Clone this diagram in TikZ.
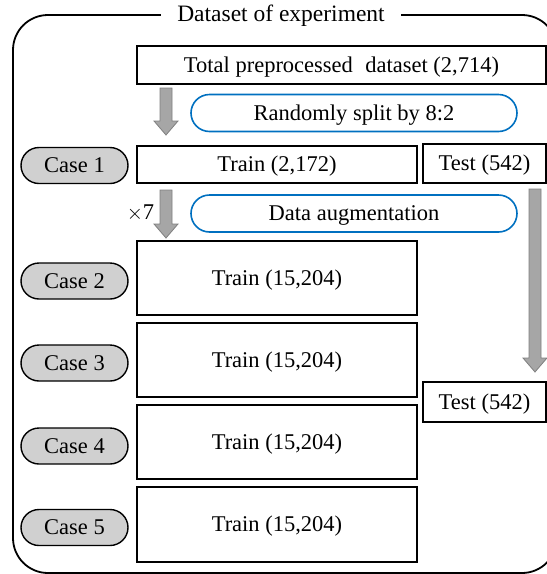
\documentclass[tikz,border=0pt]{standalone}
\usepackage{fontspec}
\setmainfont{Liberation Serif}
\usetikzlibrary{shapes.misc,calc}
\definecolor{pillblue}{RGB}{0,112,192}
\definecolor{casegray}{RGB}{208,208,208}
\definecolor{arrowfill}{RGB}{166,166,166}
\definecolor{arrowline}{RGB}{127,127,127}

% gray block arrow pointing down from #1 to #2
\newcommand\blockarrow[2]{%
  \draw[blockarrow] let \p1=(#1), \p2=(#2) in
    (\x1-6pt,\y1) -- (\x1+6pt,\y1) -- (\x1+6pt,\y2+14pt) -- (\x1+12pt,\y2+14pt)
    -- (\x1,\y2) -- (\x1-12pt,\y2+14pt) -- (\x1-6pt,\y2+14pt) -- cycle;}

\begin{document}
\begin{tikzpicture}[x=1pt,y=-1pt,
  font=\fontsize{22.5}{27}\selectfont,
  txt/.style={text height=14pt, text depth=0pt},
  databox/.style={txt, draw=black, line width=1.8pt, fill=white, inner sep=0pt, outer sep=0pt},
  casepill/.style={txt, rounded rectangle, draw=black, line width=1.4pt, fill=casegray,
    minimum width=107pt, minimum height=36pt, inner sep=0pt},
  steppill/.style={txt, rounded rectangle, draw=pillblue, line width=1.6pt,
    minimum width=326pt, minimum height=37pt, inner sep=0pt},
  blockarrow/.style={fill=arrowfill, draw=arrowline, line width=0.8pt, line join=miter}]

\useasboundingbox (0,0) rectangle (547,574);

% outer frame with its title
\draw[line width=1.8pt, rounded corners=35pt] (13,15) rectangle (557,573);
\node[txt, fill=white, inner xsep=16pt, inner ysep=3pt, font=\fontsize{23.5}{28}\selectfont]
  (title) at (281,14) {Dataset of experiment};

% full dataset and the 8:2 split
\node[databox, minimum width=409pt, minimum height=38pt] (total) at (341.5,65)
  {Total preprocessed\hspace{0.3em} dataset (2,714)};
\node[steppill] (split) at (354,113) {Randomly split by 8:2};

\node[casepill] (case1) at (74.5,165.5) {Case 1};
\node[databox, minimum width=280pt, minimum height=37pt] (train1) at (277,164.5) {Train (2,172)};
\node[databox, minimum width=123pt, minimum height=39pt] (test1) at (484.5,163.5) {Test (542)};

% augmentation step
\node[steppill] (augment) at (354,213.5) {Data augmentation};
\node[txt] (times) at (140.5,212) {$\times$7};

% augmented training sets
\node[databox, minimum width=280pt, minimum height=74pt] (train2) at (277,278) {Train (15,204)};
\node[databox, minimum width=280pt, minimum height=74pt] (train3) at (277,360) {Train (15,204)};
\node[databox, minimum width=280pt, minimum height=74pt] (train4) at (277,442) {Train (15,204)};
\node[databox, minimum width=280pt, minimum height=75pt] (train5) at (277,524.5) {Train (15,204)};

\node[casepill] (case2) at (74.5,281) {Case 2};
\node[casepill] (case3) at (74.5,363) {Case 3};
\node[casepill] (case4) at (74.5,446) {Case 4};
\node[casepill] (case5) at (74.5,527.5) {Case 5};

\node[databox, minimum width=123pt, minimum height=40pt] (test2) at (484.5,402) {Test (542)};

% arrow end points
\coordinate (a1s) at (166,88);
\coordinate (a1e) at (166,135);
\coordinate (a2s) at (166,190);
\coordinate (a2e) at (166,238);
\coordinate (a3s) at (535,189);
\coordinate (a3e) at (535,372);

\blockarrow{a1s}{a1e}
\blockarrow{a2s}{a2e}
\blockarrow{a3s}{a3e}
\end{tikzpicture}
\end{document}
